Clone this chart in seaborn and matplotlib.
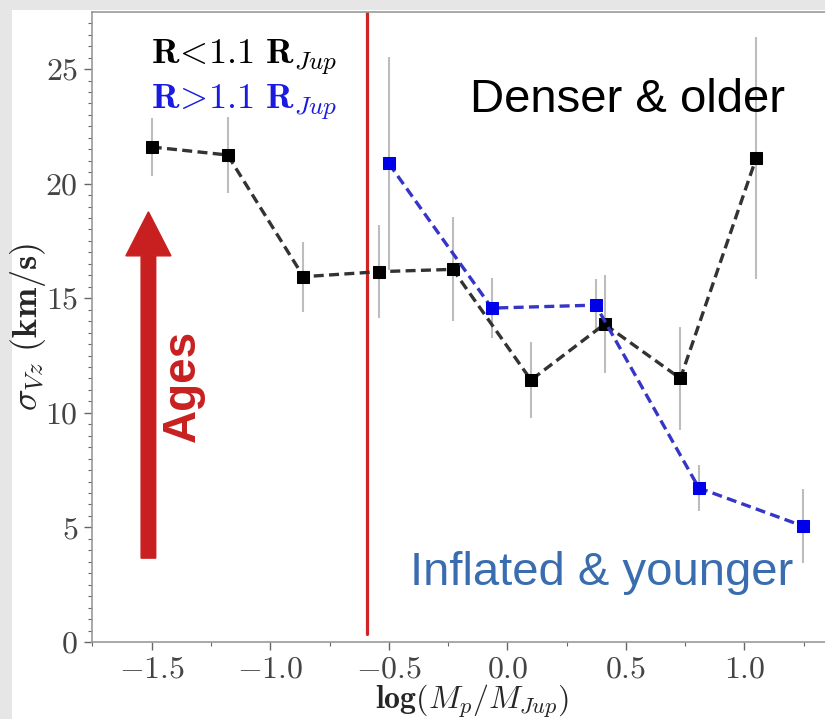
import matplotlib
matplotlib.use("Agg")
import matplotlib.pyplot as plt
import seaborn as sns
import pandas as pd
from matplotlib.patches import Rectangle
from matplotlib.ticker import MultipleLocator

# Binned vertical velocity dispersion vs planet mass
logm_small = [-1.50, -1.18, -0.86, -0.54, -0.23, 0.10, 0.41, 0.73, 1.05]
sig_small = [21.60, 21.25, 15.94, 16.16, 16.26, 11.43, 13.87, 11.50, 21.12]
err_small = [1.27, 1.66, 1.53, 2.02, 2.27, 1.64, 2.13, 2.25, 5.26]

logm_big = [-0.50, -0.065, 0.373, 0.808, 1.247]
sig_big = [20.88, 14.57, 14.70, 6.72, 5.06]
err_big = [4.65, 1.30, 1.15, 1.00, 1.60]

mass_cut = -0.59
label_small = r"$\mathbf{R\!<\!1.1\ R}_{Jup}$"
label_big = r"$\mathbf{R\!>\!1.1\ R}_{Jup}$"

sns.set_style("white")
plt.rcParams["font.family"] = ["serif"]
plt.rcParams["font.serif"] = ["cmr10", "DejaVu Serif"]
plt.rcParams["mathtext.fontset"] = "cm"
plt.rcParams["axes.formatter.use_mathtext"] = True

W, H = 825, 719
fig = plt.figure(figsize=(W / 100, H / 100), dpi=100, facecolor="#e6e6e6")
fig.patches.append(Rectangle((12 / W, 0), 1, (H - 10) / H, transform=fig.transFigure,
                             facecolor="white", edgecolor="none", zorder=-5))

ax = fig.add_axes([92 / W, (H - 642) / H, (852 - 92) / W, (642 - 12) / H])
ax.set_facecolor("white")

df_small = pd.DataFrame({"logm": logm_small, "sig": sig_small})
df_big = pd.DataFrame({"logm": logm_big, "sig": sig_big})

ax.errorbar(logm_small, sig_small, yerr=err_small, fmt="none", ecolor="#bdbdbd",
            elinewidth=1.5, capsize=0, zorder=1)
ax.errorbar(logm_big, sig_big, yerr=err_big, fmt="none", ecolor="#bdbdbd",
            elinewidth=1.5, capsize=0, zorder=1)

sns.lineplot(data=df_small, x="logm", y="sig", ax=ax, sort=False, color="#333333",
             linestyle=(0, (3, 1.6)), linewidth=2.4, marker="s", markersize=8.5,
             markerfacecolor="black", markeredgecolor="black", zorder=3)
sns.lineplot(data=df_big, x="logm", y="sig", ax=ax, sort=False, color="#3535c8",
             linestyle=(0, (3, 1.6)), linewidth=2.4, marker="s", markersize=8,
             markerfacecolor="#0000e8", markeredgecolor="#0000e8", zorder=4)

ax.axvline(mass_cut, ymin=0.013, ymax=1, color="#d02424", linewidth=2.3, zorder=2)

ax.set_xlim(-1.752, 1.454)
ax.set_ylim(0, 27.49)
ax.xaxis.set_major_locator(MultipleLocator(0.5))
ax.xaxis.set_minor_locator(MultipleLocator(0.25))
ax.yaxis.set_major_locator(MultipleLocator(5))
ax.yaxis.set_minor_locator(MultipleLocator(0.5))
ax.tick_params(which="both", direction="out", color="#666666", left=True, bottom=True,
               labelsize=23, labelcolor="#444444")
ax.tick_params(which="major", length=6, width=1.0, pad=4)
ax.tick_params(which="minor", length=3, width=0.8)
for side in ["left", "bottom", "top"]:
    ax.spines[side].set_color("#999999")
    ax.spines[side].set_linewidth(1.2)
ax.spines["right"].set_visible(False)

ax.set_xlabel(r"$\mathbf{log}(M_p/M_{Jup})$", fontsize=23)
ax.xaxis.set_label_coords(0.5, -0.065)
ax.set_ylabel(r"$\sigma_{Vz}\ \mathbf{(km/s)}$", fontsize=26)
ax.yaxis.set_label_coords(-0.058, 0.5)

ax.text(0.078, 0.918, label_small, transform=ax.transAxes, fontsize=26, color="black",
        ha="left", va="baseline")
ax.text(0.078, 0.846, label_big, transform=ax.transAxes, fontsize=26, color="#1a1ae0",
        ha="left", va="baseline")

sans = ["Liberation Sans", "DejaVu Sans"]
ax.text((470 - 92) / 760, (642 - 112) / 630, "Denser & older", transform=ax.transAxes,
        fontsize=34, family=sans, color="black", ha="left", va="baseline")
ax.text((410 - 92) / 760, (642 - 585) / 630, "Inflated & younger", transform=ax.transAxes,
        fontsize=34, family=sans, color="#3a6db0", ha="left", va="baseline")

# Age arrow
ax.arrow(-1.514, 3.66, 0, 18.77 - 3.66, width=0.0616, head_width=0.19, head_length=1.92,
         length_includes_head=True, color="#c82020", zorder=2)
ax.text((183 - 92) / 760, (642 - 386) / 630, "Ages", transform=ax.transAxes, rotation=90,
        fontsize=33, fontweight="bold", family=sans, color="#c82020",
        ha="center", va="center")

fig.savefig("out.png", dpi=100, facecolor=fig.get_facecolor())
